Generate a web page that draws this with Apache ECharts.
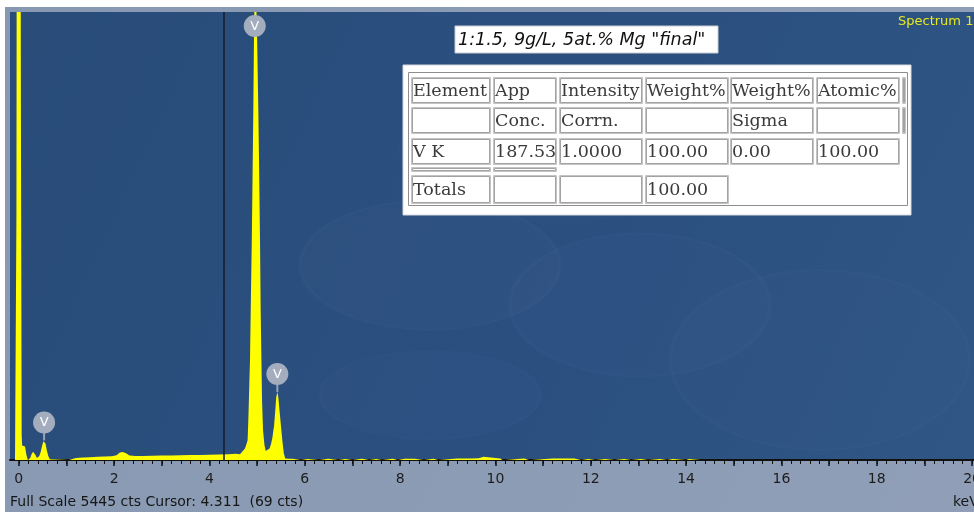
<!DOCTYPE html>
<html>
<head>
<meta charset="utf-8">
<script src="https://cdn.jsdelivr.net/npm/echarts@6/dist/echarts.min.js"></script>
<style>
  html, body { margin: 0; padding: 0; background: #ffffff; }
  #chart { width: 974px; height: 512px; }
</style>
</head>
<body>
<div id="chart"></div>
<script>
// EDS spectrum: energy (keV) and counts per point
const spectrumKeV = [
  -0.08, -0.05, -0.035, 0.02, 0.045, 0.06, 0.07, 0.13, 0.16, 0.19,
  0.22, 0.24, 0.27, 0.30, 0.32, 0.35, 0.38, 0.40,
  0.43, 0.46, 0.49, 0.515, 0.535, 0.56, 0.59, 0.62, 0.65, 0.67,
  1.05, 1.08, 1.2, 1.35, 1.5, 1.65, 1.8, 1.95, 2.05, 2.12, 2.18, 2.25, 2.32, 2.45,
  2.6, 2.8, 3.0, 3.2, 3.4, 3.6, 3.8, 4.0, 4.2, 4.4, 4.55, 4.64, 4.745, 4.78,
  4.80, 4.815, 4.835, 4.85, 4.87, 4.887, 4.905, 4.92, 4.935, 4.955, 4.975,
  5.0, 5.025, 5.045, 5.061, 5.075, 5.09, 5.103, 5.124, 5.155, 5.18, 5.20, 5.22,
  5.26, 5.29, 5.32, 5.34, 5.355, 5.38, 5.40, 5.424, 5.445, 5.47, 5.50, 5.53, 5.56, 5.59,
  5.62, 5.66, 5.74, 5.76,
  5.92, 5.94, 6.06, 6.08,
  6.30, 6.32, 6.50, 6.52,
  6.70, 6.72, 6.85, 6.87,
  7.00, 7.02, 7.20, 7.22,
  7.35, 7.37, 7.50, 7.52,
  7.62, 7.64, 7.85, 7.87,
  7.95, 7.97, 8.10, 8.30, 8.32,
  8.50, 8.52, 8.70, 8.72,
  8.80, 8.82, 9.20, 9.50, 9.65, 9.68, 9.75, 9.78, 10.10, 10.15,
  10.20, 10.22, 10.60, 10.70,
  10.75, 10.77, 11.20, 11.65, 11.67,
  11.80, 11.82, 11.95, 11.97,
  12.10, 12.12, 12.30, 12.32,
  12.50, 12.52, 12.70, 12.72,
  12.85, 12.87, 13.05, 13.07,
  13.20, 13.22, 13.45, 13.47,
  13.60, 13.62, 13.72, 13.74,
  14.00, 14.02, 14.06, 14.08,
  14.30, 14.32, 14.36,
  14.70, 14.72, 14.76,
  15.10, 15.12, 15.16,
  15.60, 15.62, 15.66,
  16.00, 16.02, 16.06,
  20.04
];
const spectrumCts = [
  0, 3000, 12000, 12000, 4000, 300, 175, 165, 60, 0,
  0, 25, 75, 100, 95, 60, 25, 30,
  50, 100, 175, 228, 238, 200, 110, 45, 10, 0,
  0, 20, 25, 30, 34, 38, 42, 46, 58, 90, 97, 82, 56, 50,
  50, 52, 55, 54, 58, 60, 62, 64, 66, 70, 76, 70, 140, 200,
  240, 480, 900, 1206, 2000, 2630, 3500, 4250, 5200, 5900, 5700,
  5100, 4250, 3400, 2630, 1800, 1206, 720, 360, 175, 110, 95, 100,
  140, 190, 270, 360, 413, 600, 760, 826, 760, 600, 413, 230, 80, 18,
  0, 15, 15, 0,
  0, 12, 12, 0,
  0, 15, 15, 0,
  0, 12, 12, 0,
  0, 15, 15, 0,
  0, 12, 12, 0,
  0, 15, 15, 0,
  0, 15, 15, 15, 0,
  0, 15, 15, 0,
  0, 18, 18, 18, 20, 40, 40, 18, 18, 0,
  0, 15, 18, 0,
  0, 18, 18, 18, 0,
  0, 12, 12, 0,
  0, 12, 12, 0,
  0, 12, 12, 0,
  0, 12, 12, 0,
  0, 12, 12, 0,
  0, 12, 12, 0,
  0, 12, 12, 0,
  0, 12, 0,
  0, 12, 0,
  0, 12, 0,
  0, 12, 0,
  0, 12, 0,
  0
];

const fullScaleCts = 5445;
const cursorKeV = 4.311;
const cursorCts = 69;

// Identified lines
const peakEnergies = [0.53, 4.95, 5.424];
const peakLabels = ['V', 'V', 'V'];

// Axis labels (keV)
const tickLabels = [0, 2, 4, 6, 8, 10, 12, 14, 16, 18, 20];

// Quantification table
const tableHeader = ['Element', 'App', 'Intensity', 'Weight%', 'Weight%', 'Atomic%'];
const tableSubHeader = ['', 'Conc.', 'Corrn.', '', 'Sigma', ''];
const elementNames = ['V K'];
const appConc = [187.53];
const intensityCorrn = [1.0000];
const weightPct = [100.00];
const weightSigma = [0.00];
const atomicPct = [100.00];
const totalWeightPct = 100.00;

const titleText = '1:1.5, 9g/L, 5at.% Mg "final"';
const spectrumName = 'Spectrum 1';

// ---- derived ----
const spectrumData = spectrumKeV.map((e, i) => [e, spectrumCts[i]]);
const peakCounts = peakEnergies.map(pe => {
  let m = 0;
  spectrumKeV.forEach((e, i) => { if (Math.abs(e - pe) <= 0.03) m = Math.max(m, spectrumCts[i]); });
  return m;
});
const majorTicks = [];
for (let v = 0; v <= 20; v += 1) majorTicks.push(v);
const minorTicks = [];
for (let k = 0; k <= 100; k++) minorTicks.push(Math.round(k * 2) / 10);

// ---- layout ----
const plot = { left: 10, top: 12, width: 964, height: 448 };
const cols = [[411, 491], [493, 557], [559, 643], [645, 729], [730, 814], [816, 900]];
const rows = [[77, 104], [107, 134], [138, 165], [167, 172], [175, 204]];
const tableFont = '17.5px "DejaVu Serif"';

const graphics = [];

// window frame and plot background
graphics.push({ type: 'rect', z: -20, silent: true,
  shape: { x: 5, y: 7, width: 969, height: 505 },
  style: { fill: { type: 'linear', x: 0, y: 0, x2: 1, y2: 1,
    colorStops: [{ offset: 0, color: '#8798b2' }, { offset: 1, color: '#909fb7' }] } } });
graphics.push({ type: 'rect', z: -19, silent: true,
  shape: { x: plot.left, y: plot.top, width: plot.width, height: plot.height },
  style: { fill: { type: 'linear', x: 0, y: 0, x2: 1, y2: 1,
    colorStops: [{ offset: 0, color: '#294c79' }, { offset: 0.6, color: '#2b5080' }, { offset: 1, color: '#2f5685' }] } } });

// faint sample texture behind the spectrum
[[430, 265, 130, 0.5, 0.018], [640, 305, 130, 0.55, 0.016], [430, 395, 110, 0.4, 0.014],
 [820, 360, 150, 0.6, 0.014], [560, 150, 160, 0.45, 0.01]].forEach(([cx, cy, r, sy, a]) => {
  graphics.push({ type: 'circle', z: -18, silent: true, x: cx, y: cy, scaleY: sy,
    shape: { cx: 0, cy: 0, r: r },
    style: { fill: 'rgba(190,210,235,' + a + ')', stroke: 'rgba(200,220,240,' + (a * 1.5) + ')', lineWidth: 4 } });
});

// title box
graphics.push({ type: 'rect', z: 50, silent: true,
  shape: { x: 455, y: 26, width: 263, height: 27 },
  style: { fill: '#ffffff', stroke: '#c8ccd2', lineWidth: 1 } });
graphics.push({ type: 'text', z: 51, silent: true,
  style: { text: titleText, x: 458, y: 40, verticalAlign: 'middle', fill: '#111111',
    font: 'italic 17.5px "DejaVu Sans"' } });

// spectrum name
graphics.push({ type: 'text', z: 51, silent: true,
  style: { text: spectrumName, x: 898, y: 22, verticalAlign: 'middle', fill: '#e8e820',
    font: '13px "DejaVu Sans"' } });

// table frame
graphics.push({ type: 'rect', z: 50, silent: true,
  shape: { x: 403, y: 65, width: 508, height: 150 },
  style: { fill: '#ffffff', stroke: '#d4d8de', lineWidth: 1 } });
graphics.push({ type: 'rect', z: 51, silent: true,
  shape: { x: 408.5, y: 72.5, width: 499, height: 133 },
  style: { fill: 'none', stroke: '#8e8e8e', lineWidth: 1 } });

function cell(x0, x1, y0, y1, text) {
  graphics.push({ type: 'rect', z: 52, silent: true,
    shape: { x: x0 + 0.5, y: y0 + 0.5, width: x1 - x0 - 1, height: y1 - y0 - 1 },
    style: { fill: 'none', stroke: '#c4c4c4', lineWidth: 1 } });
  graphics.push({ type: 'rect', z: 52, silent: true,
    shape: { x: x0 + 1.5, y: y0 + 1.5, width: x1 - x0 - 3, height: y1 - y0 - 3 },
    style: { fill: 'none', stroke: '#a2a2a2', lineWidth: 1 } });
  if (text) {
    graphics.push({ type: 'text', z: 53, silent: true,
      style: { text: text, x: x0 + 2, y: (y0 + y1) / 2 + 1, verticalAlign: 'middle',
        fill: '#3a3a3a', font: tableFont } });
  }
}

const dataRow = [elementNames[0], appConc[0].toFixed(2), intensityCorrn[0].toFixed(4),
  weightPct[0].toFixed(2), weightSigma[0].toFixed(2), atomicPct[0].toFixed(2)];
const totalsRow = ['Totals', '', '', totalWeightPct.toFixed(2)];

cols.forEach((c, i) => cell(c[0], c[1], rows[0][0], rows[0][1], tableHeader[i]));
cols.forEach((c, i) => cell(c[0], c[1], rows[1][0], rows[1][1], tableSubHeader[i]));
cell(902, 906, rows[0][0], rows[0][1], '');
cell(902, 906, rows[1][0], rows[1][1], '');
cols.forEach((c, i) => cell(c[0], c[1], rows[2][0], rows[2][1], dataRow[i]));
cell(cols[0][0], cols[0][1], rows[3][0], rows[3][1], '');
cell(cols[1][0], cols[1][1], rows[3][0], rows[3][1], '');
totalsRow.forEach((t, i) => cell(cols[i][0], cols[i][1], rows[4][0], rows[4][1], t));

// status line and unit
graphics.push({ type: 'text', z: 51, silent: true,
  style: { text: 'Full Scale ' + fullScaleCts + ' cts Cursor: ' + cursorKeV.toFixed(3) + '  (' + cursorCts + ' cts)',
    x: 10, y: 502, verticalAlign: 'middle', fill: '#161616', font: '14px "DejaVu Sans"' } });
graphics.push({ type: 'text', z: 51, silent: true,
  style: { text: 'keV', x: 953, y: 502, verticalAlign: 'middle', fill: '#161616', font: '14px "DejaVu Sans"' } });

const chart = echarts.init(document.getElementById('chart'), null, { renderer: 'canvas' });
chart.setOption({
  animation: false,
  backgroundColor: '#ffffff',
  grid: {
    left: plot.left, top: plot.top, right: 0, bottom: 512 - plot.top - plot.height,
    containLabel: false, outerBoundsMode: 'none'
  },
  xAxis: [
    {
      type: 'value', min: -0.185, max: 20.04, position: 'bottom',
      axisLine: { show: true, lineStyle: { color: '#111111', width: 2 } },
      axisTick: { show: true, customValues: majorTicks, length: 6, lineStyle: { color: '#111111', width: 1.5 } },
      axisLabel: { show: true, customValues: tickLabels, margin: 12, color: '#1c1c1c',
        fontFamily: 'DejaVu Sans', fontSize: 14, formatter: v => String(v), hideOverlap: false },
      splitLine: { show: false }
    },
    {
      type: 'value', min: -0.185, max: 20.04, position: 'bottom', offset: 0,
      axisLine: { show: false },
      axisTick: { show: true, customValues: minorTicks, length: 4, lineStyle: { color: '#111111', width: 1 } },
      axisLabel: { show: false },
      splitLine: { show: false }
    }
  ],
  yAxis: { type: 'value', min: 0, max: fullScaleCts, show: false, splitLine: { show: false } },
  graphic: { elements: graphics },
  series: [
    {
      type: 'line',
      data: spectrumData,
      showSymbol: false,
      symbol: 'none',
      clip: true,
      z: 3,
      lineStyle: { width: 0 },
      areaStyle: { color: '#ffff00', opacity: 1 },
      markLine: {
        silent: true, symbol: 'none', animation: false,
        label: { show: false },
        lineStyle: { color: '#141d2a', width: 1.5, type: 'solid' },
        data: [{ xAxis: cursorKeV }]
      }
    },
    {
      type: 'custom',
      coordinateSystem: 'cartesian2d',
      clip: false,
      z: 6,
      data: peakEnergies.map((e, i) => [e, peakCounts[i], i]),
      renderItem: function (params, api) {
        const p = api.coord([api.value(0), api.value(1)]);
        const top = params.coordSys.y;
        const idx = api.value(2);
        const peakY = Math.max(p[1], top);
        const cy = Math.max(peakY - 18, top + 14);
        const children = [];
        if (peakY > cy + 9) {
          children.push({ type: 'line', shape: { x1: p[0], y1: cy + 8, x2: p[0], y2: peakY },
            style: { stroke: '#9aa4b4', lineWidth: 2 } });
        }
        children.push({ type: 'circle', shape: { cx: p[0], cy: cy, r: 11 },
          style: { fill: '#a3adbe' } });
        children.push({ type: 'text', style: { text: peakLabels[idx], x: p[0], y: cy + 0.5,
          align: 'center', verticalAlign: 'middle', fill: '#ffffff', font: '13px "DejaVu Sans"' } });
        return { type: 'group', children: children };
      }
    }
  ]
});
</script>
</body>
</html>
